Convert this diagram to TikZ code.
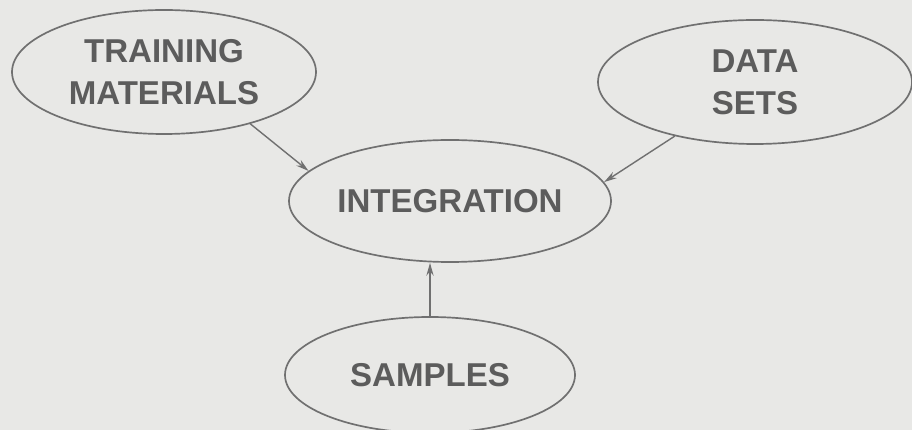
\documentclass[tikz,border=0pt]{standalone}
\usepackage{fontspec}
\setmainfont{Liberation Sans}
\usepackage{tikz}
\usetikzlibrary{shapes.geometric, arrows.meta, positioning, calc}
\usepackage{xcolor}
\definecolor{ScanPaper}{HTML}{E8E8E6}
\definecolor{ScanLine}{HTML}{707070}
\definecolor{ScanText}{HTML}{5C5C5C}
\tikzset{
    % Ellipse styles
    topic/.style={
        ellipse,
        draw=ScanLine,
        line width=1.2pt,
        inner sep=0pt,
        align=center,
        text=ScanText,
        font=\fontsize{23.5}{30}\selectfont\bfseries
    },
    % Arrow styles - straight lines only
    arrow/.style={
        -{Stealth[length=3.2mm, width=1.8mm]},
        line width=1pt,
        draw=ScanLine
    }
}

\begin{document}
\begin{tikzpicture}
    \fill[ScanPaper] (0,0) rectangle (22.8,-10.75);
    \useasboundingbox (0,0) rectangle (22.8,-10.75);

    \node[topic, minimum width=7.6cm, minimum height=3.1cm] (train) at (4.1,-1.8) {TRAINING\\MATERIALS};
    \node[topic, minimum width=7.85cm, minimum height=3.1cm] (data) at (18.875,-2.05) {DATA\\SETS};
    \node[topic, minimum width=8.05cm, minimum height=3.05cm] (integ) at (11.25,-5.025) {INTEGRATION};
    \node[topic, minimum width=7.25cm, minimum height=2.9cm] (samp) at (10.75,-9.375) {SAMPLES};

    \draw[arrow] (train.-31) -- (integ.168);
    \draw[arrow] (data.-146) -- (integ.7);
    \draw[arrow] (samp.north) -- (integ.south -| samp.north);
\end{tikzpicture}
\end{document}
